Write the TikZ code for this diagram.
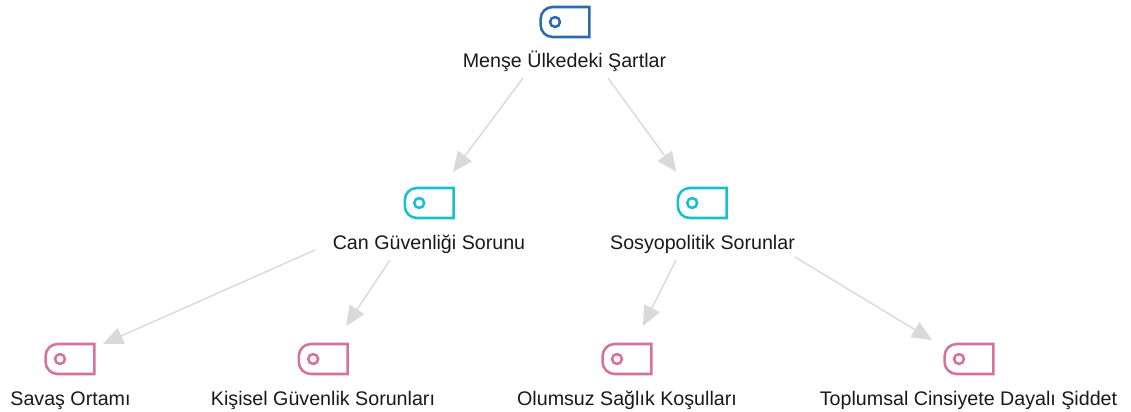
\documentclass[tikz,border=0pt]{standalone}
\usepackage{fontspec}
\setmainfont{Liberation Sans}
\usetikzlibrary{calc,arrows.meta}
\definecolor{tagblue}{HTML}{2A6BAD}
\definecolor{tagcyan}{HTML}{17BFD0}
\definecolor{tagpink}{HTML}{D5719F}
\definecolor{linkgrey}{HTML}{D9D9D9}
\tikzset{
  x=0.75pt,y=-0.75pt,
  tagnode/.style={minimum width=36.6pt,minimum height=22.5pt,inner sep=0pt,outer sep=0pt},
  lbl/.style={inner sep=0pt,outer sep=0pt,font=\fontsize{14.75pt}{17pt}\selectfont,text=black!90,anchor=base},
  conn/.style={draw=linkgrey,line width=1.05pt,-{Triangle[length=15pt,width=13pt,color=linkgrey]}}
}
\newcommand{\tagat}[4]{%
  \node[tagnode] (#1) at (#2,#3) {};
  \draw[#4,line width=1.9pt,line join=miter]
    ($(#1.north west)+(12,0)$) -- (#1.north east) -- (#1.south east) -- ($(#1.south west)+(12,0)$)
    arc[start angle=270,end angle=180,radius=9pt] -- ++(0,-6)
    arc[start angle=180,end angle=90,radius=9pt] -- cycle;
  \draw[#4,line width=1.9pt] ($(#1.center)+(-10,0)$) circle[radius=3.7pt];
}
\begin{document}
\begin{tikzpicture}
\useasboundingbox (0,0) rectangle (1131,411);
\tagat{t0}{565}{22}{tagblue}
\tagat{t1}{429.2}{203}{tagcyan}
\tagat{t2}{702.2}{203}{tagcyan}
\tagat{t3}{70}{359}{tagpink}
\tagat{t4}{323.2}{359}{tagpink}
\tagat{t5}{627}{359}{tagpink}
\tagat{t6}{969}{359}{tagpink}
\node[lbl] (l0) at (564.5,67.5) {Menşe Ülkedeki Şartlar};
\node[lbl] (l1) at (429,249.5) {Can Güvenliği Sorunu};
\node[lbl] (l2) at (702.5,249.5) {Sosyopolitik Sorunlar};
\node[lbl] (l3) at (70.5,405.5) {Savaş Ortamı};
\node[lbl] (l4) at (323,405.5) {Kişisel Güvenlik Sorunları};
\node[lbl] (l5) at (627,405.5) {Olumsuz Sağlık Koşulları};
\node[lbl] (l6) at (968.5,405.5) {Toplumsal Cinsiyete Dayalı Şiddet};
\draw[conn] ($(l0.base)+(-41.5,10.5)$) -- ($(t1.center)+(23.8,-31)$);
\draw[conn] ($(l0.base)+(43.5,10.5)$) -- ($(t2.center)+(-25.7,-31)$);
\draw[conn] ($(l1.base)+(-114,0.5)$) -- ($(t3.center)+(33,-15)$);
\draw[conn] ($(l1.base)+(-39,10.5)$) -- ($(t4.center)+(22.8,-33)$);
\draw[conn] ($(l2.base)+(-26.5,10.5)$) -- ($(t5.center)+(16,-33)$);
\draw[conn] ($(l2.base)+(92.5,7.5)$) -- ($(t6.center)+(-37,-19)$);
\end{tikzpicture}
\end{document}
